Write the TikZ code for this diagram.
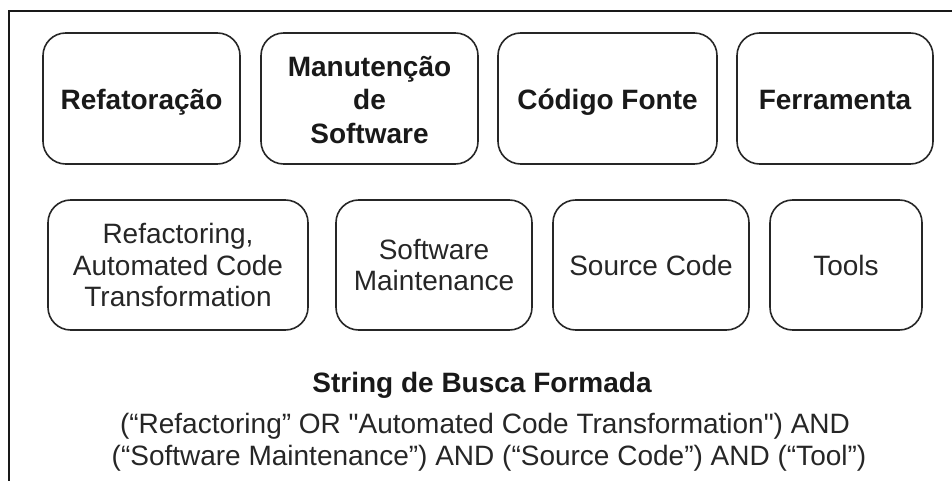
\documentclass[tikz,border=0pt]{standalone}
\usepackage{fontspec}
\setmainfont{Liberation Sans}[Ligatures=TeXOff]
\newcommand\tstr{\rule{0pt}{22pt}}
\newcommand\bstr{\rule[-5pt]{0pt}{5pt}}
\newcommand\tstrb{\rule{0pt}{20pt}}
\begin{document}
\begin{tikzpicture}[x=0.75pt,y=-0.75pt,
  box/.style={draw=black!85, line width=1.2pt, rounded corners=17pt, inner sep=0pt, align=center},
  top/.style={box, minimum height=98.25pt, font=\fontsize{21}{25}\selectfont\bfseries, text=black!90},
  bot/.style={box, minimum height=97.5pt, font=\fontsize{21}{23.8}\selectfont, text=black!85},
  txt/.style={inner sep=0pt, anchor=base, font=\fontsize{21}{24}\selectfont, text=black!85}]
\useasboundingbox (0,0) rectangle (952,481);
\coordinate (fa) at (9,481);
\coordinate (fb) at (9,11);
\coordinate (fc) at (952,11);
\draw[line width=1.4pt, black!90] (fa) -- (fb) -- (fc);
% row 1
\node[top, minimum width=147.75pt] (ref) at (141.5,98.5) {\tstr Refatoração\bstr};
\node[top, minimum width=162.75pt] (man) at (369.5,98.5) {\tstr Manutenção\\de\\Software\bstr};
\node[top, minimum width=164.25pt] (cod) at (607.5,98.5) {\tstr Código Fonte\bstr};
\node[top, minimum width=147pt] (fer) at (835,98.5) {\tstr Ferramenta\bstr};
% row 2
\node[bot, minimum width=195pt] (rfa) at (178,265) {\tstrb Refactoring,\\Automated Code\\Transformation\bstr};
\node[bot, minimum width=147pt] (swm) at (434,265) {\tstrb Software\\Maintenance\bstr};
\node[bot, minimum width=147pt] (src) at (651,265) {\tstrb Source Code\bstr};
\node[bot, minimum width=114pt] (tls) at (846,265) {\tstrb Tools\bstr};
% search string
\node[txt, font=\fontsize{21}{24}\selectfont\bfseries, text=black!90] (tit) at (482,392) {String de Busca Formada};
\node[txt] (q1) at (485,433) {(“Refactoring” OR "Automated Code Transformation") AND};
\node[txt] (q2) at (489,465) {(“Software Maintenance”) AND (“Source Code”) AND (“Tool”)};
\end{tikzpicture}
\end{document}
